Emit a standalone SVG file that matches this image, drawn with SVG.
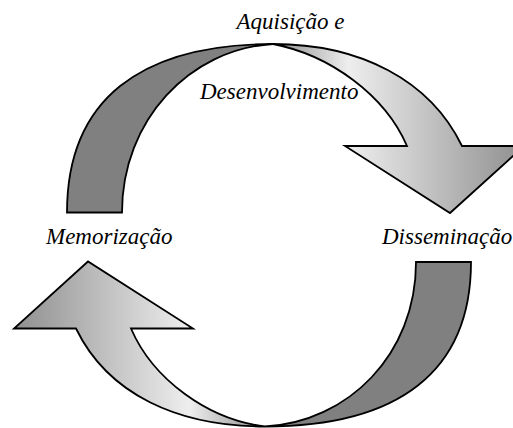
<svg xmlns="http://www.w3.org/2000/svg" width="513" height="428" viewBox="0 0 513 428">
<defs>
<linearGradient id="gTop" gradientUnits="userSpaceOnUse" x1="273" y1="0" x2="524" y2="0">
<stop offset="0" stop-color="#8e8e8e"/>
<stop offset="0.3" stop-color="#eeeeee"/>
<stop offset="1" stop-color="#8f8f8f"/>
</linearGradient>
<linearGradient id="gBot" gradientUnits="userSpaceOnUse" x1="265" y1="0" x2="14" y2="0">
<stop offset="0" stop-color="#8e8e8e"/>
<stop offset="0.3" stop-color="#eeeeee"/>
<stop offset="1" stop-color="#8f8f8f"/>
</linearGradient>
</defs>
<style>
.dark{fill:#808080;stroke:#000;stroke-width:1.8;stroke-linejoin:miter}
.lite{stroke:#000;stroke-width:1.8;stroke-linejoin:miter}
.lbl{font-style:italic;font-size:23px;fill:#000}
</style>
<rect width="513" height="428" fill="#fff"/>
<g id="connectors">
<g id="arrow-top">
<path class="dark" d="M67,212.5 C67,100 140,44 273,44 C190,49 122,120 122,212.5 Z"/>
<path class="lite" fill="url(#gTop)" d="M273,44 C360,44 430,80 462,146 L524,146 L450,213 L345,146 L407,146 C385,95 330,55 273,44 Z"/>
</g>
<g id="arrow-bottom">
<path class="dark" d="M471,262 C471,372 398,426.5 265,426.5 C348,422 416,354.5 416,262 Z"/>
<path class="lite" fill="url(#gBot)" d="M265,426.5 C178,426.5 108,394.5 76,328.5 L14,328.5 L88,261.5 L193,328.5 L131,328.5 C153,379.5 208,419.5 265,426.5 Z"/>
</g>
</g>
<g id="node-aquisicao" font-family="'Liberation Serif', 'DejaVu Serif', serif">
<text class="lbl" x="236.5" y="29">Aquisição e</text>
<text class="lbl" x="200" y="99">Desenvolvimento</text>
</g>
<g id="node-memorizacao" font-family="'Liberation Serif', 'DejaVu Serif', serif">
<text class="lbl" x="46" y="244">Memorização</text>
</g>
<g id="node-disseminacao" font-family="'Liberation Serif', 'DejaVu Serif', serif">
<text class="lbl" x="382" y="244">Disseminação</text>
</g>
</svg>
